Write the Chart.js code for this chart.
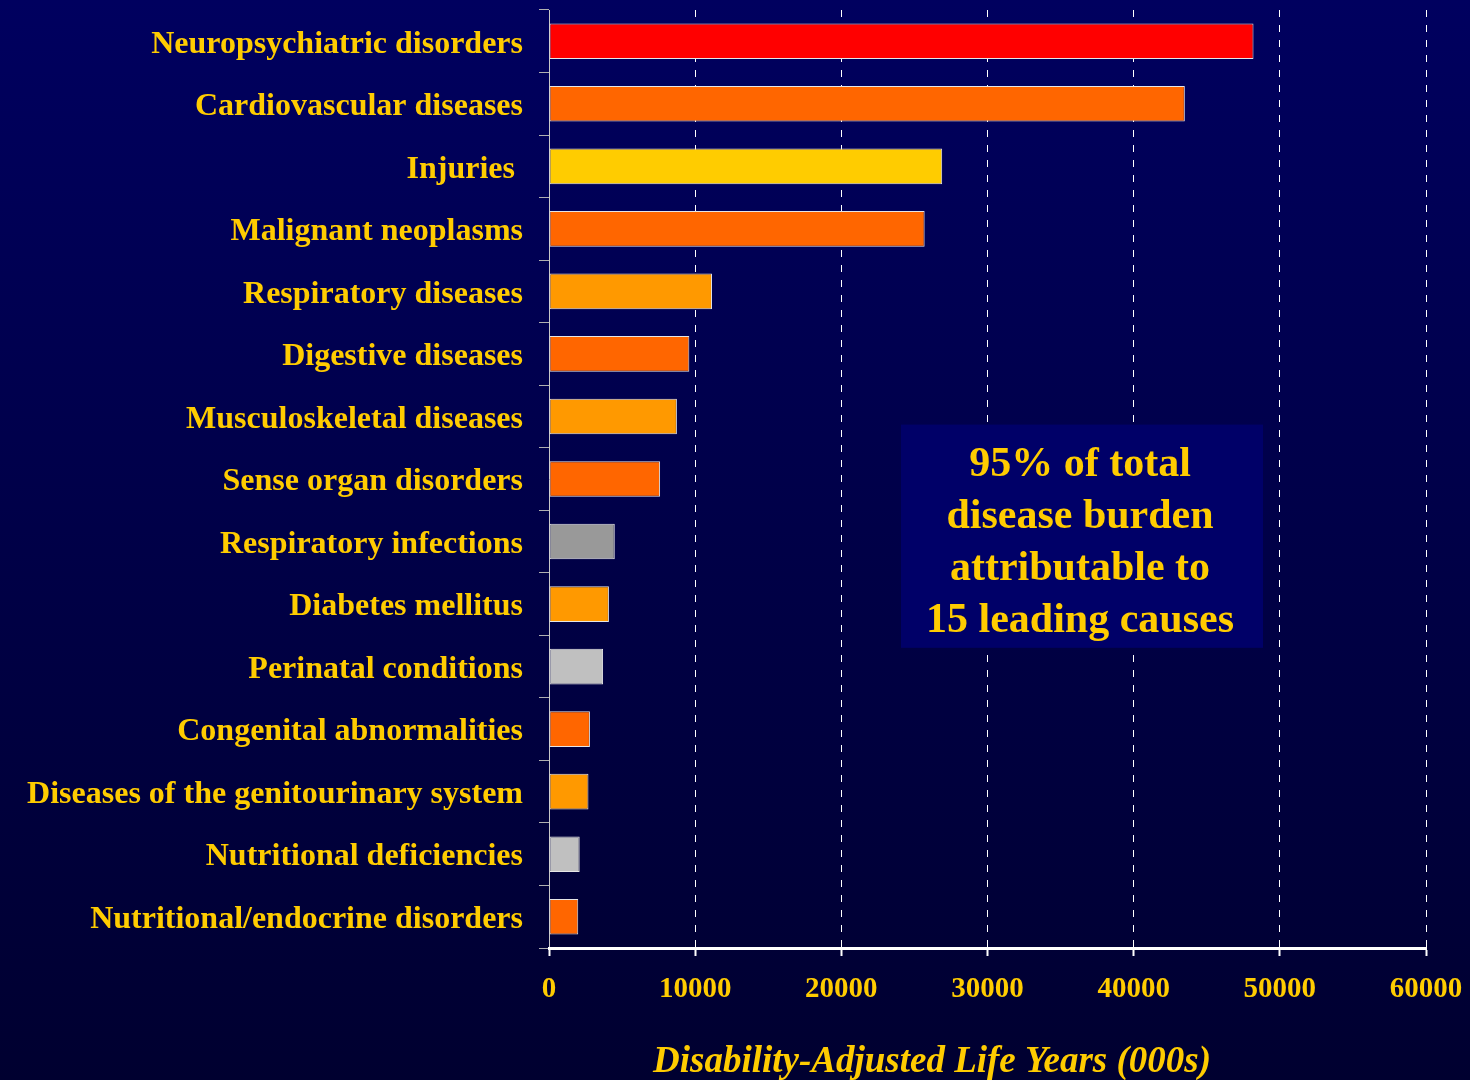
<!DOCTYPE html>
<html>
<head>
<meta charset="utf-8">
<script src="https://cdn.jsdelivr.net/npm/chart.js@4/dist/chart.umd.min.js"></script>
<style>
html,body{margin:0;padding:0;background:#000040;}
#wrap{width:1470px;height:1080px;}
</style>
</head>
<body>
<div id="wrap"><canvas id="c" width="1470" height="1080"></canvas></div>
<script>
const categories = [
  "Neuropsychiatric disorders",
  "Cardiovascular diseases",
  "Injuries ",
  "Malignant neoplasms",
  "Respiratory diseases",
  "Digestive diseases",
  "Musculoskeletal diseases",
  "Sense organ disorders",
  "Respiratory infections",
  "Diabetes mellitus",
  "Perinatal conditions",
  "Congenital abnormalities",
  "Diseases of the genitourinary system",
  "Nutritional deficiencies",
  "Nutritional/endocrine disorders"
];
const dalys = [48200, 43500, 26900, 25700, 11150, 9600, 8750, 7600, 4500, 4100, 3700, 2800, 2700, 2100, 2000];
const barColors = ["#FF0000","#FF6600","#FFCC00","#FF6600","#FF9900","#FF6600","#FF9900","#FF6600",
                   "#999999","#FF9900","#C0C0C0","#FF6600","#FF9900","#C0C0C0","#FF6600"];
const xTicks = [0, 10000, 20000, 30000, 40000, 50000, 60000];
const axisTitle = "Disability-Adjusted Life Years (000s)";
const noteLines = ["95% of total", "disease burden", "attributable to", "15 leading causes"];

const YELLOW = "#FFCC00";
const SERIF = "'Liberation Serif','Times New Roman',serif";

const bgPlugin = {
  id: 'bg',
  beforeDraw(chart) {
    const {ctx, width, height} = chart;
    const g = ctx.createLinearGradient(0, 0, 0, height);
    g.addColorStop(0, "#00005f");
    g.addColorStop(1, "#000030");
    ctx.save();
    ctx.fillStyle = g;
    ctx.fillRect(0, 0, width, height);
    ctx.restore();
  }
};

const notePlugin = {
  id: 'note',
  afterDraw(chart) {
    const {ctx, scales} = chart;
    const x = scales.x, y = scales.y;
    const left = x.getPixelForValue(24080), right = x.getPixelForValue(48850);
    const top = y.getPixelForValue(6.13), bottom = y.getPixelForValue(9.70);
    ctx.save();
    ctx.fillStyle = "#000068";
    ctx.fillRect(left, top, right - left, bottom - top);
    ctx.fillStyle = YELLOW;
    ctx.font = "bold 42px " + SERIF;
    ctx.textAlign = "center";
    ctx.textBaseline = "middle";
    const cx = (left + right) / 2 - 2;
    noteLines.forEach((t, i) => ctx.fillText(t, cx, top + 41 + i * 51.7));
    // axis title
    ctx.font = "italic bold 37px " + SERIF;
    ctx.fillText(axisTitle, 932, 1062);
    ctx.restore();
  }
};

new Chart(document.getElementById('c'), {
  type: 'bar',
  data: {
    labels: categories,
    datasets: [{
      data: dalys,
      backgroundColor: barColors,
      borderColor: "#e6e6e6",
      borderWidth: 1,
      borderSkipped: false,
      categoryPercentage: 1.0,
      barPercentage: 0.57
    }]
  },
  options: {
    indexAxis: 'y',
    responsive: false,
    animation: false,
    devicePixelRatio: 1,
    layout: { padding: { top: 10, right: 44, left: 0, bottom: 0 } },
    plugins: { legend: { display: false }, tooltip: { enabled: false } },
    scales: {
      y: {
        afterFit(s) { s.width = 549; s.paddingTop = 0; s.paddingBottom = 0; },
        border: { color: "#c8c8c8", width: 1 },
        grid: { drawOnChartArea: false, drawTicks: true, tickLength: 10, color: "#b0b0b0", lineWidth: 1, offset: true },
        ticks: { color: YELLOW, font: { family: SERIF, size: 32, weight: 'bold' }, padding: 16, labelOffset: 3 }
      },
      x: {
        min: 0, max: 60000,
        afterFit(s) { s.height = 132; s.paddingLeft = 0; s.paddingRight = 0; },
        afterBuildTicks(s) { s.ticks = xTicks.map(v => ({ value: v })); },
        border: { color: "#ffffff", width: 3, dash: [7, 8] },
        grid: {
          color: (c) => c.tick && c.tick.value === 0 ? "rgba(0,0,0,0)" : "#ffffff",
          lineWidth: 1,
          tickLength: 8,
          tickWidth: 2,
          tickColor: "#ffffff",
          tickBorderDash: []
        },
        ticks: {
          color: YELLOW,
          font: { family: SERIF, size: 29, weight: 'bold' },
          padding: 16,
          callback: (v) => String(v)
        }
      }
    }
  },
  plugins: [bgPlugin, notePlugin]
});
</script>
</body>
</html>
